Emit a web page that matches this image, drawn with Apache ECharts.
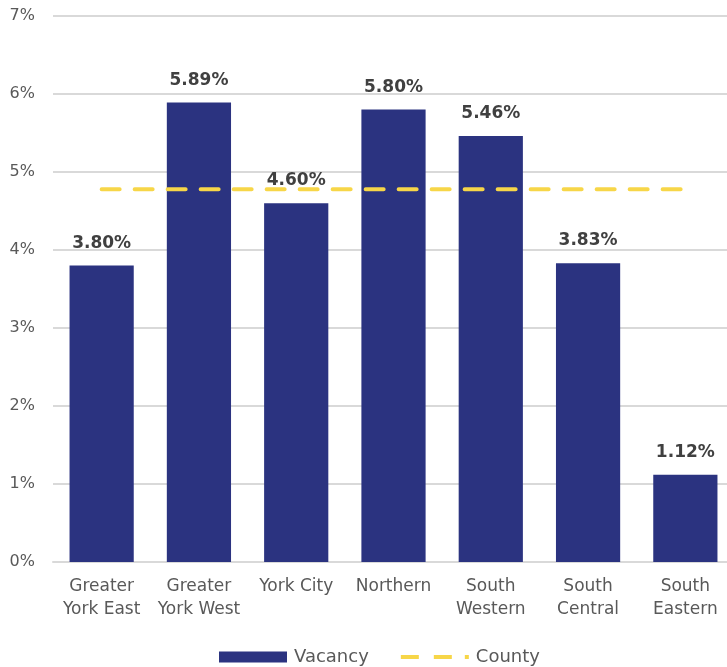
<!DOCTYPE html>
<html><head><meta charset="utf-8">
<script src="https://cdn.jsdelivr.net/npm/echarts@6/dist/echarts.min.js"></script>
<style>html,body{margin:0;padding:0;background:#fff;overflow:hidden}#c{width:734px;height:667px}</style>
</head><body><div id="c"></div>
<script>
const categories = ['Greater\nYork East','Greater\nYork West','York City','Northern','South\nWestern','South\nCentral','South\nEastern'];
const vacancy = [3.80, 5.89, 4.60, 5.80, 5.46, 3.83, 1.12];
const county = [4.78, 4.78, 4.78, 4.78, 4.78, 4.78, 4.78];
const yTicks = [0,1,2,3,4,5,6,7];
const FONT = '"DejaVu Sans", sans-serif';
const chart = echarts.init(document.getElementById('c'));
chart.setOption({
  animation: false,
  textStyle: {fontFamily: FONT},
  grid: {left: 53, top: 16, right: 0, bottom: 105, containLabel: false},
  legend: {
    bottom: -4, left: 214, itemGap: 32,
    itemWidth: 68, itemHeight: 11,
    textStyle: {fontFamily: FONT, fontSize: 18, color: '#595959', padding: [0, 0, 0, 2]},
    data: [
      {name: 'Vacancy', icon: 'rect'},
      {name: 'County', icon: 'path://M0,0h18v4h-18z M33,0h18v4h-18z M64,0h4v4h-4z', itemStyle: {color: '#F7D648'}}
    ]
  },
  xAxis: {
    type: 'category', data: categories,
    axisLine: {lineStyle: {color: '#d9d9d9', width: 2}},
    axisTick: {show: false},
    axisLabel: {fontFamily: FONT, fontSize: 17, color: '#595959', lineHeight: 23, margin: 13, interval: 0}
  },
  yAxis: {
    type: 'value', min: 0, max: 7, interval: 1,
    axisLabel: {fontFamily: FONT, fontSize: 16, color: '#595959', margin: 18, formatter: v => yTicks.includes(v) ? v + '%' : ''},
    splitLine: {lineStyle: {color: '#d9d9d9', width: 2}},
    axisLine: {show: false}, axisTick: {show: false}
  },
  series: [
    {
      name: 'Vacancy', type: 'bar', data: vacancy, barWidth: '66%', z: 2,
      itemStyle: {color: '#2B3380'},
      label: {show: true, position: 'top', distance: 14, fontFamily: FONT, fontWeight: 'bold', fontSize: 17, color: '#404040', formatter: p => p.value.toFixed(2) + '%'}
    },
    {
      name: 'County', type: 'line', data: county, symbol: 'none', z: 5,
      lineStyle: {color: '#F7D648', width: 4, type: [18, 15], cap: 'round'},
      itemStyle: {color: '#F7D648'}
    }
  ]
});
</script></body></html>
